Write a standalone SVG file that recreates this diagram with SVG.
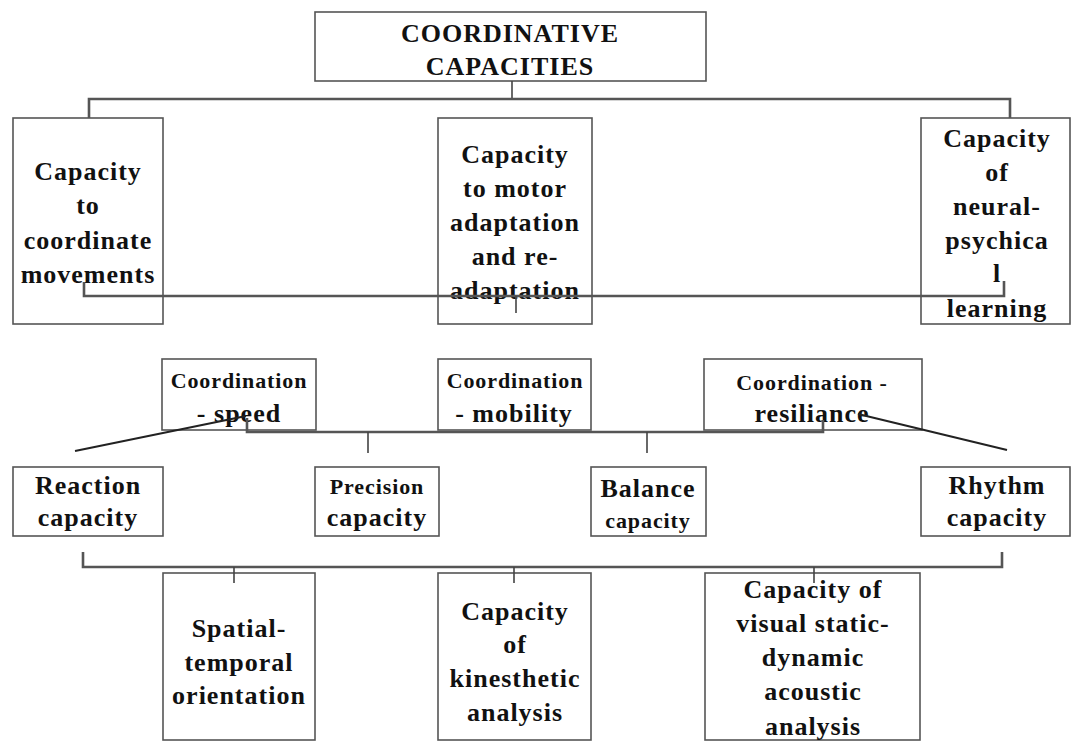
<svg xmlns="http://www.w3.org/2000/svg" width="1071" height="743" viewBox="0 0 1071 743">
<style>
.box{fill:#fff;stroke:#555;stroke-width:1.6}
.t{font-family:"Liberation Serif","Times New Roman",serif;font-weight:bold;font-size:26px;letter-spacing:1px;text-anchor:middle;fill:#111}
.s{font-size:22px;letter-spacing:0.9px}
.bus{fill:none;stroke:#555;stroke-width:2.6}
.tick{fill:none;stroke:#444;stroke-width:1.6}
.diag{fill:none;stroke:#222;stroke-width:2}
</style>
<rect width="1071" height="743" fill="#fff"/>
<g id="n-top"><rect class="box" x="315" y="12" width="391" height="69"/>
<text class="t" x="510" y="42">COORDINATIVE</text><text class="t" x="510" y="75">CAPACITIES</text></g>
<g id="n-b1"><rect class="box" x="13" y="118" width="150" height="206"/>
<text class="t" x="88" y="180">Capacity</text><text class="t" x="88" y="214">to</text><text class="t" x="88" y="249">coordinate</text><text class="t" x="88" y="283">movements</text></g>
<g id="n-b2"><rect class="box" x="438" y="118" width="154" height="206"/>
<text class="t" x="515" y="163">Capacity</text><text class="t" x="515" y="197">to motor</text><text class="t" x="515" y="231">adaptation</text><text class="t" x="515" y="265">and re-</text><text class="t" x="515" y="299">adaptation</text></g>
<g id="n-b3"><rect class="box" x="921" y="118" width="149" height="206"/>
<text class="t" x="997" y="147">Capacity</text><text class="t" x="997" y="181">of</text><text class="t" x="997" y="215">neural-</text><text class="t" x="997" y="249">psychica</text><text class="t" x="997" y="282">l</text><text class="t" x="997" y="317">learning</text></g>
<g id="n-m1"><rect class="box" x="162" y="359" width="154" height="71"/>
<text class="t s" x="239" y="388">Coordination</text><text class="t" x="239" y="422">- speed</text></g>
<g id="n-m2"><rect class="box" x="438" y="359" width="153" height="71"/>
<text class="t s" x="515" y="388">Coordination</text><text class="t" x="514" y="422">- mobility</text></g>
<g id="n-m3"><rect class="box" x="704" y="359" width="218" height="71"/>
<text class="t s" x="812" y="390">Coordination -</text><text class="t" x="812" y="422">resiliance</text></g>
<g id="n-r1"><rect class="box" x="13" y="467" width="150" height="69"/>
<text class="t" x="88" y="494">Reaction</text><text class="t" x="88" y="526">capacity</text></g>
<g id="n-r2"><rect class="box" x="315" y="467" width="124" height="69"/>
<text class="t s" x="377" y="494">Precision</text><text class="t" x="377" y="526">capacity</text></g>
<g id="n-r3"><rect class="box" x="591" y="467" width="115" height="69"/>
<text class="t" x="648" y="497">Balance</text><text class="t s" x="648" y="528">capacity</text></g>
<g id="n-r4"><rect class="box" x="921" y="467" width="149" height="69"/>
<text class="t" x="997" y="494">Rhythm</text><text class="t" x="997" y="526">capacity</text></g>
<g id="n-l1"><rect class="box" x="163" y="573" width="152" height="167"/>
<text class="t" x="239" y="637">Spatial-</text><text class="t" x="239" y="671">temporal</text><text class="t" x="239" y="704">orientation</text></g>
<g id="n-l2"><rect class="box" x="438" y="573" width="153" height="167"/>
<text class="t" x="515" y="620">Capacity</text><text class="t" x="515" y="653">of</text><text class="t" x="515" y="687">kinesthetic</text><text class="t" x="515" y="721">analysis</text></g>
<g id="n-l3"><rect class="box" x="705" y="573" width="215" height="167"/>
<text class="t" x="813" y="598">Capacity of</text><text class="t" x="813" y="632">visual static-</text><text class="t" x="813" y="666">dynamic</text><text class="t" x="813" y="700">acoustic</text><text class="t" x="813" y="735">analysis</text></g>
<g id="connectors">
<path class="tick" d="M512 81V99"/>
<path class="bus" d="M89 118V99H1010V118"/>
<path class="bus" d="M84 282V296H1004V281"/>
<path class="tick" d="M516 296V313"/>
<path class="bus" d="M247 418V432H823V420"/>
<path class="tick" d="M368 432V453M647 432V453"/>
<path class="diag" d="M75 451L246 416"/>
<path class="diag" d="M858 414L1007 450"/>
<path class="bus" d="M83 552V567H1002V552"/>
<path class="tick" d="M234 567V583M514 567V583M814 567V583"/>
</g>
</svg>
